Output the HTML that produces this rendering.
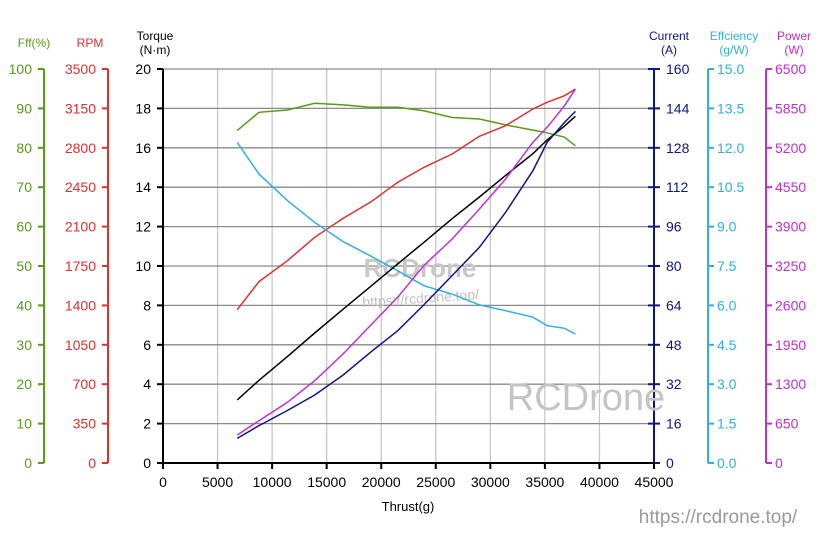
<!DOCTYPE html>
<html><head><meta charset="utf-8">
<style>
html,body{margin:0;padding:0;background:#fff;}
svg{display:block;font-family:"Liberation Sans",sans-serif;}
</style></head>
<body>
<svg id="chart" width="840" height="560" viewBox="0 0 840 560" xmlns="http://www.w3.org/2000/svg">
<g id="grid"></g>
<g id="wm1">
<text x="420" y="277" font-size="26" fill="#c8c8c8" text-anchor="middle" font-weight="bold">RCDrone</text>
<text x="421" y="303" font-size="14" fill="#c0c0c0" text-anchor="middle" transform="rotate(-4 421 303)">https://rcdrone.top/</text>
</g>
<g id="series"></g>
<g id="axes"></g>
<text x="586" y="410" font-size="38" fill="#c4c4c4" text-anchor="middle">RCDrone</text>
<text x="718" y="523" font-size="19" fill="#9a9a9a" text-anchor="middle">https://rcdrone.top/</text>
<text x="408" y="511" font-size="13" fill="#000" text-anchor="middle">Thrust(g)</text>
</svg>
<script>
const thrust=[6800,8800,11400,13900,16500,19000,21500,23900,26500,29000,31400,33900,35200,36800,37800];
const fff=[84.4,89,89.6,91.3,90.9,90.3,90.3,89.4,87.7,87.3,85.8,84.5,83.8,82.7,80.5];
const rpm=[1362,1611,1797,2005,2173,2316,2493,2626,2745,2902,2996,3145,3204,3263,3322];
const torque=[3.2,4.2,5.4,6.6,7.8,8.95,10.1,11.2,12.4,13.5,14.6,15.7,16.4,17.1,17.6];
const current=[10.0,15.2,21.3,27.6,35.7,44.9,53.7,64.2,76.1,87.6,101.8,118.7,130.2,138.3,142.8];
const efficiency=[12.21,11.0,9.99,9.16,8.43,7.89,7.32,6.75,6.43,6.02,5.80,5.55,5.23,5.13,4.91];
const power=[462,698,1001,1358,1798,2266,2733,3256,3696,4190,4686,5290,5538,5895,6170];
const xTicks=[0,5000,10000,15000,20000,25000,30000,35000,40000,45000];
const fffTicks=[0,10,20,30,40,50,60,70,80,90,100];
const rpmTicks=[0,350,700,1050,1400,1750,2100,2450,2800,3150,3500];
const torqueTicks=[0,2,4,6,8,10,12,14,16,18,20];
const currentTicks=[0,16,32,48,64,80,96,112,128,144,160];
const effTicks=["0.0","1.5","3.0","4.5","6.0","7.5","9.0","10.5","12.0","13.5","15.0"];
const powerTicks=[0,650,1300,1950,2600,3250,3900,4550,5200,5850,6500];

const NS="http://www.w3.org/2000/svg";
const X0=163,X1=654,Y0=463,Y1=69;
const xs=v=>X0+v/45000*(X1-X0);
const yFrac=f=>Y0-f*(Y0-Y1);
function mk(tag,attrs,parent,txt){const e=document.createElementNS(NS,tag);for(const k in attrs)e.setAttribute(k,attrs[k]);if(txt!==undefined)e.textContent=txt;parent.appendChild(e);return e;}
const grid=document.getElementById('grid'),axes=document.getElementById('axes'),series=document.getElementById('series');

xTicks.forEach((t,i)=>{if(i>0){const l=mk('line',{x1:xs(t),x2:xs(t),y1:Y1,y2:Y0,stroke:'#c8c8c8','stroke-width':1.3},grid);

}});
torqueTicks.forEach((t,i)=>{if(i>0){const l=mk('line',{x1:X0,x2:X1,y1:yFrac(t/20),y2:yFrac(t/20),stroke:'#8a8a8a','stroke-width':1.3},grid);

}});

function yAxis(name,x,ticks,color,side,title1,title2,titleX,fmt){
  const g=mk('g',{},axes);
  
  
  mk('line',{x1:x,x2:x,y1:Y1,y2:Y0,stroke:color,'stroke-width':2},g);
  ticks.forEach((t,i)=>{const y=yFrac(i/(ticks.length-1));
    if(side==='left'){mk('line',{x1:x-6,x2:x,y1:y,y2:y,stroke:color,'stroke-width':2},g);
      const tx=mk('text',{x:x-12,y:y+5,'font-size':14,fill:color,'text-anchor':'end'},g,t);
      
      }
    else{const l=side==='both'?x-6:x;mk('line',{x1:l,x2:x+6,y1:y,y2:y,stroke:color,'stroke-width':2},g);
      const tx=mk('text',{x:x+(side==='both'?12:9),y:y+5,'font-size':14,fill:color,'text-anchor':'start'},g,t);
      
      }
  });
  const t1=mk('text',{x:titleX,y:title2?40:47,'font-size':12,fill:color,'text-anchor':'middle'},g,title1);
  
  
  if(title2){const t2=mk('text',{x:titleX,y:54,'font-size':12,fill:color,'text-anchor':'middle'},g,title2);
  
  }
}
yAxis('fff-axis',44,fffTicks,'#5a9a1a','left','Fff(%)',null,34);
yAxis('rpm-axis',108,rpmTicks,'#e03030','left','RPM',null,90);
yAxis('torque-axis',X0,torqueTicks,'#000','left','Torque','(N·m)',155);
yAxis('current-axis',X1,currentTicks,'#10148c','both','Current','(A)',669);
yAxis('efficiency-axis',708,effTicks,'#30b0e0','right','Effciency','(g/W)',734);
yAxis('power-axis',766,powerTicks,'#c030d0','right','Power','(W)',794);

const xg=mk('g',{},axes);


mk('line',{x1:X0-1,x2:X1+1,y1:Y0,y2:Y0,stroke:'#000','stroke-width':2},xg);
xTicks.forEach(t=>{mk('line',{x1:xs(t),x2:xs(t),y1:Y0,y2:Y0+6,stroke:'#000','stroke-width':2},xg);
  const tx=mk('text',{x:xs(t),y:Y0+24,'font-size':14,fill:'#000','text-anchor':'middle'},xg,t);
  
  });

function line(name,vals,max,color){
  const d=vals.map((v,i)=>(i?'L':'M')+xs(thrust[i]).toFixed(1)+','+yFrac(v/max).toFixed(1)).join(' ');
  const p=mk('path',{d:d,fill:'none',stroke:color,'stroke-width':1.5},series);
  
  
}
line('fff-line',fff,100,'#5a9a1a');
line('rpm-line',rpm,3500,'#e03030');
line('efficiency-line',efficiency,15,'#30b0e0');
line('torque-line',torque,20,'#000');
line('power-line',power,6500,'#c030d0');
line('current-line',current,160,'#10148c');
</script>
</body></html>
